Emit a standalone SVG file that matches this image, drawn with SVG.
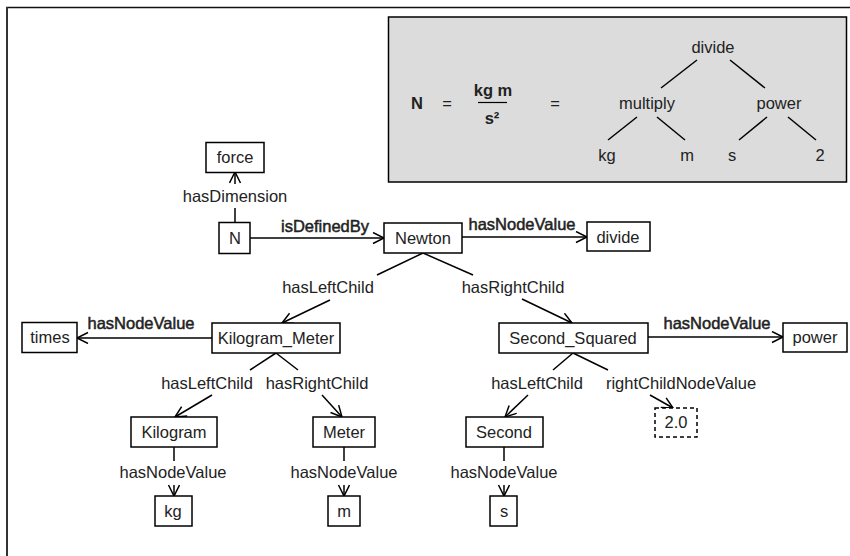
<svg xmlns="http://www.w3.org/2000/svg" width="850" height="556" viewBox="0 0 850 556">
<defs>
<style>
text{font-family:"Liberation Sans",Arial,sans-serif;font-size:16.5px;fill:#222;text-anchor:middle}
.b{stroke:#222;stroke-width:0.5}
.node rect{fill:#fff;stroke:#000;stroke-width:1.5}
.dash{stroke-dasharray:4,3}
.edges line{stroke:#000;stroke-width:1.5;fill:none}
.tree line{stroke:#000;stroke-width:1.5}
.eq{font-weight:bold}
</style>
<marker id="ah" markerUnits="userSpaceOnUse" markerWidth="14" markerHeight="14" refX="12" refY="6" orient="auto">
<path d="M1,0.5 L12,6 L1,11.5" fill="none" stroke="#000" stroke-width="1.5"/>
</marker>
</defs>
<rect width="850" height="556" fill="#fff"/>
<g id="frame">
<line x1="6" y1="7.5" x2="850" y2="7.5" stroke="#111" stroke-width="1.5"/>
<line x1="7" y1="7" x2="7" y2="556" stroke="#333" stroke-width="2"/>
</g>
<g id="legend">
<rect x="388.5" y="17" width="458" height="165" fill="#dcdcdc" stroke="#000" stroke-width="1.5"/>
<text x="417" y="109" class="eq">N</text>
<text x="447" y="109">=</text>
<text x="493" y="96" class="eq">kg m</text>
<line x1="478" y1="102.5" x2="507" y2="102.5" stroke="#000" stroke-width="1.2"/>
<text x="492" y="124" class="eq">s²</text>
<text x="555" y="109">=</text>
<text x="713" y="53">divide</text>
<text x="647" y="109">multiply</text>
<text x="779" y="109">power</text>
<text x="607" y="161">kg</text>
<text x="687" y="161">m</text>
<text x="732" y="161">s</text>
<text x="820" y="161">2</text>
<g class="tree">
<line x1="697" y1="60" x2="661" y2="88"/>
<line x1="730" y1="60" x2="765" y2="88"/>
<line x1="637" y1="117" x2="608" y2="140"/>
<line x1="657" y1="117" x2="685" y2="140"/>
<line x1="767" y1="117" x2="739" y2="140"/>
<line x1="788" y1="117" x2="816" y2="140"/>
</g>
</g>
<g id="edges" class="edges">
<line x1="235" y1="222" x2="235" y2="208"/>
<line x1="235" y1="184" x2="235" y2="172" marker-end="url(#ah)"/>
<text x="235" y="202">hasDimension</text>
<line x1="250" y1="238" x2="384" y2="238" marker-end="url(#ah)"/>
<text x="325" y="232" class="b">isDefinedBy</text>
<line x1="462" y1="237" x2="587" y2="237" marker-end="url(#ah)"/>
<text x="522" y="230" class="b">hasNodeValue</text>
<line x1="423" y1="253" x2="377" y2="275"/>
<line x1="330" y1="300" x2="282" y2="323" marker-end="url(#ah)"/>
<text x="328" y="293">hasLeftChild</text>
<line x1="423" y1="253" x2="473" y2="275"/>
<line x1="522" y1="299" x2="572" y2="323" marker-end="url(#ah)"/>
<text x="513" y="293">hasRightChild</text>
<line x1="212" y1="338" x2="77" y2="338" marker-end="url(#ah)"/>
<text x="141" y="329" class="b">hasNodeValue</text>
<line x1="276" y1="353" x2="250" y2="370"/>
<line x1="212" y1="395" x2="175" y2="417" marker-end="url(#ah)"/>
<text x="207" y="389">hasLeftChild</text>
<line x1="276" y1="353" x2="298" y2="370"/>
<line x1="322" y1="395" x2="342" y2="417" marker-end="url(#ah)"/>
<text x="317" y="389">hasRightChild</text>
<line x1="648" y1="337" x2="783" y2="337" marker-end="url(#ah)"/>
<text x="717" y="329" class="b">hasNodeValue</text>
<line x1="573" y1="353" x2="553" y2="370"/>
<line x1="528" y1="395" x2="505" y2="417" marker-end="url(#ah)"/>
<text x="537" y="389">hasLeftChild</text>
<line x1="573" y1="353" x2="608" y2="370"/>
<line x1="650" y1="395" x2="673" y2="408" marker-end="url(#ah)"/>
<text x="681" y="389">rightChildNodeValue</text>
<line x1="174" y1="447" x2="174" y2="461"/>
<line x1="174" y1="485" x2="174" y2="496" marker-end="url(#ah)"/>
<text x="173" y="478">hasNodeValue</text>
<line x1="344" y1="447" x2="344" y2="461"/>
<line x1="344" y1="485" x2="344" y2="496" marker-end="url(#ah)"/>
<text x="344" y="478">hasNodeValue</text>
<line x1="504" y1="447" x2="504" y2="461"/>
<line x1="504" y1="485" x2="504" y2="496" marker-end="url(#ah)"/>
<text x="504" y="478">hasNodeValue</text>
</g>
<g id="force" class="node"><rect x="206" y="142.5" width="58" height="30"/><text x="235" y="163">force</text></g>
<g id="N" class="node"><rect x="219" y="222.5" width="31" height="31"/><text x="235" y="244">N</text></g>
<g id="Newton" class="node"><rect x="384" y="223" width="78" height="30"/><text x="423" y="244">Newton</text></g>
<g id="divide" class="node"><rect x="587" y="222" width="63" height="29"/><text x="618" y="243">divide</text></g>
<g id="times" class="node"><rect x="22" y="322.5" width="55" height="30"/><text x="50" y="343">times</text></g>
<g id="Kilogram_Meter" class="node"><rect x="212" y="323" width="128" height="30"/><text x="276" y="344">Kilogram_Meter</text></g>
<g id="Second_Squared" class="node"><rect x="499" y="323" width="149" height="30"/><text x="573" y="344">Second_Squared</text></g>
<g id="power" class="node"><rect x="783" y="323" width="64" height="29"/><text x="815" y="343">power</text></g>
<g id="Kilogram" class="node"><rect x="131" y="417" width="86" height="30"/><text x="174" y="438">Kilogram</text></g>
<g id="Meter" class="node"><rect x="313" y="417" width="62" height="30"/><text x="344" y="438">Meter</text></g>
<g id="Second" class="node"><rect x="466" y="417" width="77" height="30"/><text x="504" y="438">Second</text></g>
<g id="v2.0" class="node"><rect x="655" y="408" width="42" height="29" class="dash"/><text x="676" y="428">2.0</text></g>
<g id="kg" class="node"><rect x="155" y="496" width="37" height="30"/><text x="173" y="517">kg</text></g>
<g id="m" class="node"><rect x="328" y="496" width="32" height="30"/><text x="344" y="517">m</text></g>
<g id="s" class="node"><rect x="490" y="496" width="27" height="30"/><text x="504" y="517">s</text></g>
</svg>
